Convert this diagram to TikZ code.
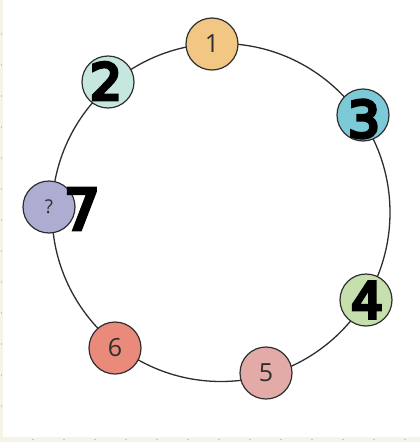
\documentclass[tikz,border=0pt]{standalone}
\usepackage{fontspec}
\newfontfamily\labelfont{Open Sans}
\newfontfamily\handfont[FakeBold=7]{DejaVu Sans}
\definecolor{paper}{HTML}{F5F4E6}
\definecolor{tick}{HTML}{C9C8BA}
\definecolor{ink}{HTML}{2E2E2E}
\definecolor{cone}{HTML}{F2C683}
\definecolor{ctwo}{HTML}{C6E6E0}
\definecolor{cthree}{HTML}{7CC9D7}
\definecolor{cseven}{HTML}{ADADD2}
\definecolor{cfour}{HTML}{C5DFAD}
\definecolor{cfive}{HTML}{E3ABA8}
\definecolor{csix}{HTML}{E98A7B}
\begin{document}
\begin{tikzpicture}[x=1pt,y=-1pt,
  seat/.style={circle, draw=ink, line width=1.2pt, minimum size=52pt, inner sep=0pt,
    font=\labelfont\fontsize{25}{25}\selectfont, text=ink},
  scrawl/.style={font=\handfont\fontsize{50}{50}\selectfont, text=black, inner sep=0pt}]
  \useasboundingbox (0,0) rectangle (420,442);
  \fill[paper] (0,0) rectangle (420,442);
  \fill[white] (3,0) rectangle (420,437);
  \foreach \k in {1,...,13} {
    \fill[tick] (0.5,{31*\k+2}) rectangle (2,{31*\k+3.5});
    \fill[tick] ({31*\k+1},438.5) rectangle ({31*\k+3},439.5);
  }
  % ring
  \draw[ink, line width=1.3pt] (221,212.5) circle (169);
  % seats
  \node[seat, fill=cone]   (s1) at (212,44) {1};
  \node[seat, fill=ctwo]   (s2) at (108,82) {};
  \node[seat, fill=cthree] (s3) at (363,115) {};
  \node[seat, fill=cseven, font=\labelfont\fontsize{19}{19}\selectfont] (s7) at (49,207) {?};
  \node[seat, fill=cfour]  (s4) at (366,300) {};
  \node[seat, fill=cfive]  (s5) at (266,373) {5};
  \node[seat, fill=csix]   (s6) at (115,348) {6};
  % handwritten numbers
  \node[scrawl] (h2) at (106,81) {2};
  \node[scrawl] (h3) at (364,119) {3};
  \node[scrawl] (h4) at (367,300) {4};
  \node[scrawl, font=\handfont\fontsize{56}{56}\selectfont] (h7) at (82,209) {7};
\end{tikzpicture}
\end{document}
